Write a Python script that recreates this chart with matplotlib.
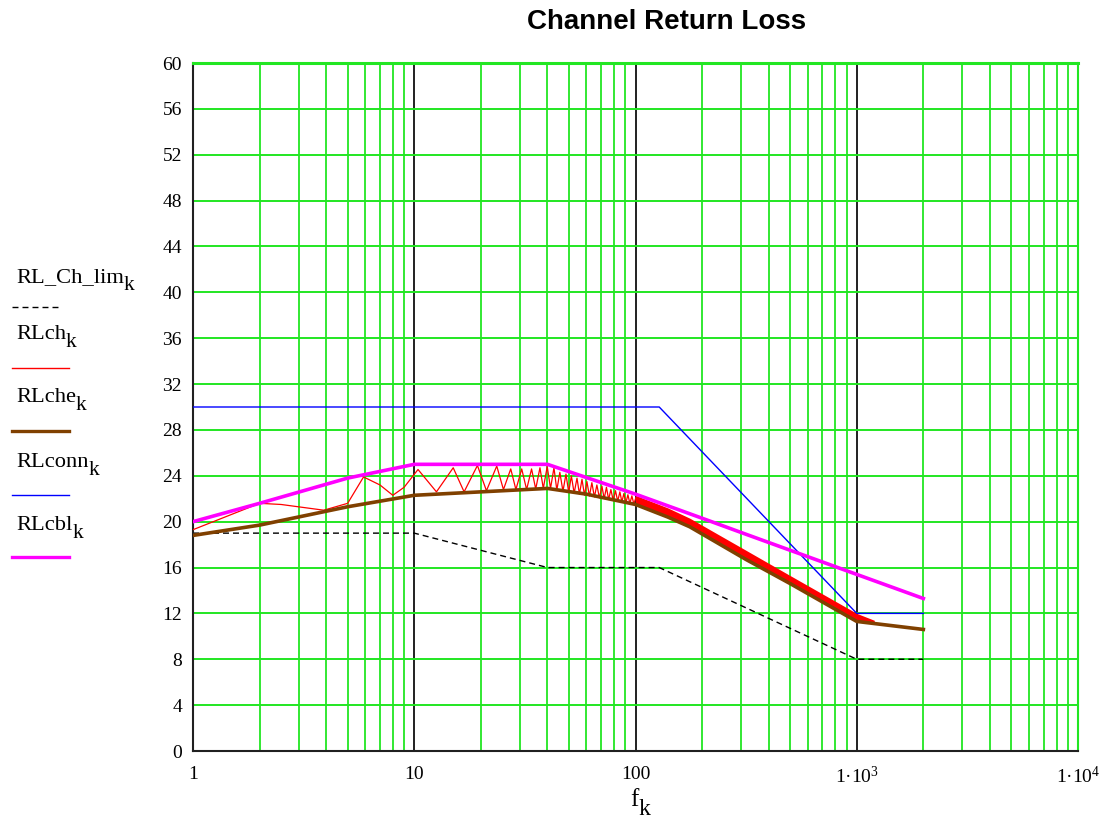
import numpy as np
import matplotlib
matplotlib.use('Agg')
import matplotlib.pyplot as plt
from matplotlib.ticker import FixedLocator, NullFormatter

plt.rcParams['font.family'] = ['Liberation Serif', 'DejaVu Serif']
plt.rcParams['mathtext.fontset'] = 'custom'
plt.rcParams['mathtext.rm'] = 'Liberation Serif'
plt.rcParams['mathtext.it'] = 'Liberation Serif:italic'

# Límite del canal (negro discontinuo)
f_lim = [1, 10, 20, 40, 128, 1000, 2000]
rl_lim = [19, 19, 17.5, 16, 16, 8, 8]

# RLconn (azul)
f_conn = [1, 128, 1000, 2000]
rl_conn = [30, 30, 12, 12]

# RLcbl (magenta)
f_cbl = [1, 2, 5, 10, 40, 100, 200, 316, 1000, 2000]
rl_cbl = [20, 21.6, 23.8, 25, 25, 22.4, 20.3, 18.9, 15.4, 13.3]

# RLche (marrón)
f_che = [1, 2, 5, 10, 20, 40, 60, 100, 140, 176, 316, 500, 1000, 2000]
rl_che = [18.8, 19.7, 21.3, 22.3, 22.6, 22.9, 22.4, 21.5, 20.4, 19.55, 16.7, 14.6, 11.3, 10.6]

# RLch (rojo) - rizado
f_ch = [1, 2.0, 2.5, 3.9, 5.0, 5.9, 7.0, 8.0, 9.0, 10.4, 12.6, 15.0, 16.8, 19.3,
        21.2, 23.6, 25.3, 27.3, 28.8, 30.6, 32.2, 33.9, 35.4, 37.0, 38.3, 39.9,
        41.3, 42.8, 44.1, 45.5, 47.0, 48.5, 49.9, 51.3, 52.8, 54.4, 55.8, 57.3,
        58.8, 60.3, 61.9, 63.5, 65.2, 66.9, 68.7, 70.5, 72.2, 73.9, 75.6, 77.4,
        79.3, 81.2, 83.1, 85.0, 86.8, 88.6, 90.5, 92.4, 94.3, 96.3, 98.3, 100.4]
rl_ch = [19.3, 21.6, 21.5, 21.0, 21.6, 23.9, 23.2, 22.3, 23.0, 24.55, 22.6, 24.7, 22.6, 24.9,
         22.7, 24.85, 22.8, 24.6, 22.8, 24.6, 22.8, 24.6, 22.85, 24.7, 22.9, 24.8,
         22.9, 24.7, 22.75, 24.3, 22.65, 24.15, 22.56, 24.0, 22.48, 23.8, 22.39, 23.7,
         22.31, 23.5, 22.23, 23.4, 22.15, 23.2, 22.07, 23.1, 22.0, 23.0, 21.93, 22.8,
         21.85, 22.7, 21.78, 22.6, 21.72, 22.45, 21.65, 22.35, 21.59, 22.25, 21.53, 22.1]

# Banda densa de RLch por encima de 100
f_band = [100, 140, 176, 316, 500, 1000, 1200]
rl_band_hi = [22.3, 21.2, 20.3, 17.5, 15.3, 12.0, 11.4]
rl_band_lo = [21.5, 20.4, 19.55, 16.7, 14.6, 11.3, 11.1]

y_ticks = list(range(0, 61, 4))
x_ticks = [1, 10, 100, 1000, 10000]
x_labels = ['1', '10', '100', '1·10$^\\mathregular{3}$', '1·10$^\\mathregular{4}$']

green = '#22e622'
brown = '#804000'

fig = plt.figure(figsize=[11.05, 8.3], dpi=100)
ax = fig.add_axes([193 / 1105, 79 / 830, 885 / 1105, 688 / 830])
ax.set_xscale('log')
ax.set_xlim(1, 1e4)
ax.set_ylim(0, 60)

# Rejilla
minors = [m * 10 ** d for d in range(4) for m in range(2, 10)]
ax.xaxis.set_major_locator(FixedLocator(x_ticks))
ax.xaxis.set_minor_locator(FixedLocator(minors))
ax.xaxis.set_minor_formatter(NullFormatter())
ax.set_xticklabels(x_labels)
ax.set_yticks(y_ticks)
ax.set_yticklabels([str(v) for v in y_ticks])
ax.grid(which='minor', axis='x', color=green, lw=1.3, zorder=1)
ax.grid(which='major', axis='x', color='#202020', lw=1.4, zorder=1)
ax.grid(which='major', axis='y', color=green, lw=1.4, zorder=1)
ax.set_axisbelow(True)
ax.tick_params(which='both', length=0)
ax.tick_params(axis='y', labelsize=14, pad=8)
ax.tick_params(axis='x', labelsize=14, pad=11)

for s in ['left', 'bottom']:
    ax.spines[s].set_linewidth(1.5)
    ax.spines[s].set_color('#202020')
ax.spines['top'].set_color(green)
ax.spines['top'].set_linewidth(2.2)
ax.spines['right'].set_color(green)
ax.spines['right'].set_linewidth(1.5)

# Curvas
ax.plot(f_lim, rl_lim, color='black', lw=1.0, dashes=(4.3, 2.9), zorder=2.5)
ax.plot(f_ch, rl_ch, color='red', lw=0.9, zorder=3)
ax.fill_between(f_band, rl_band_lo, rl_band_hi, color='red', lw=0, zorder=3)
ax.plot(f_che, rl_che, color=brown, lw=2.6, zorder=4)
ax.plot(f_conn, rl_conn, color='blue', lw=1.0, zorder=5)
ax.plot(f_cbl, rl_cbl, color='magenta', lw=2.6, zorder=6)

fig.text(667 / 1105, 1 - 22 / 830, 'Channel Return Loss', ha='center', va='center',
         fontsize=20, fontweight='bold', family='Liberation Sans')

# Capa en píxeles para la leyenda y la etiqueta del eje x
lax = fig.add_axes([0, 0, 1, 1], zorder=-1)
lax.set_xlim(0, 1105)
lax.set_ylim(830, 0)
lax.axis('off')
renderer = fig.canvas.get_renderer()


def sub_label(x, y, main, size, ha='left'):
    t = lax.text(x, y, main, fontsize=size, va='baseline', ha=ha)
    bb = t.get_window_extent(renderer=renderer)
    lax.text(bb.x1, y + size * 0.5, 'k', fontsize=size * 0.95, va='baseline', ha='left')


names = ['RL_Ch_lim', 'RLch', 'RLche', 'RLconn', 'RLcbl']
styles = [dict(color='black', lw=1.0, dashes=(4.3, 2.9)),
          dict(color='red', lw=1.0),
          dict(color=brown, lw=2.4),
          dict(color='blue', lw=1.0),
          dict(color='magenta', lw=2.4)]
text_y = [282, 339, 402, 467, 530]
line_y = [307, 368, 431, 495, 557]
for name, st, ty, ly in zip(names, styles, text_y, line_y):
    sub_label(16, ty, name, 16.2)
    x_end = 62 if name == 'RL_Ch_lim' else 69
    lax.plot([12, x_end], [ly, ly], **st)

# f_k
sub_label(630, 806, 'f', 18)

plt.savefig('out.png', dpi=100)
